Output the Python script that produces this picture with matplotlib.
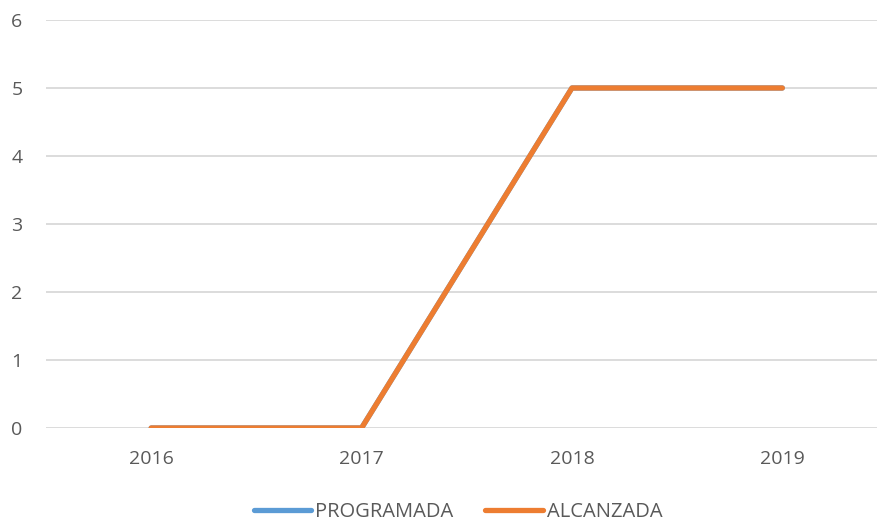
import matplotlib.pyplot as plt
from matplotlib.lines import Line2D

years = ['2016', '2017', '2018', '2019']
programada = [0, 0, 5, 5]
alcanzada = [0, 0, 5, 5]

W, H = 878, 523
fig = plt.figure(figsize=(W / 100, H / 100), dpi=100)
ax = fig.add_axes([46 / W, 95 / H, (877 - 46) / W, (503 - 95) / H])

x = range(len(years))
ax.plot(x, programada, color='#5B9BD5', lw=3.8, solid_capstyle='round', label='PROGRAMADA')
ax.plot(x, alcanzada, color='#ED7D31', lw=3.8, solid_capstyle='round', label='ALCANZADA')

ax.set_xlim(-0.5, 3.45)
ax.set_ylim(0, 6)
ax.set_xticks(list(x))
ax.set_xticklabels(years)
ax.set_yticks(range(7))
ax.yaxis.grid(True, color='#D9D9D9', lw=1.3)
ax.set_axisbelow(True)
for s in ax.spines.values():
    s.set_visible(False)
ax.tick_params(length=0, labelsize=14, labelcolor='#595959')
ax.tick_params(axis='x', pad=16)
ax.tick_params(axis='y', pad=17)
for lab in ax.get_xticklabels() + ax.get_yticklabels():
    lab.set_fontfamily('Open Sans')

handles = [Line2D([], [], color='#5B9BD5', lw=3.8, solid_capstyle='round'),
           Line2D([], [], color='#ED7D31', lw=3.8, solid_capstyle='round')]
fig.legend(handles, ['PROGRAMADA', 'ALCANZADA'], loc='center', bbox_to_anchor=(458 / W, 11 / H),
           ncol=2, frameon=False, handlelength=2.85, handletextpad=0.2, columnspacing=1.6,
           prop={'family': 'Open Sans', 'size': 14.5}, labelcolor='#595959')

fig.savefig('out.png', dpi=100)
